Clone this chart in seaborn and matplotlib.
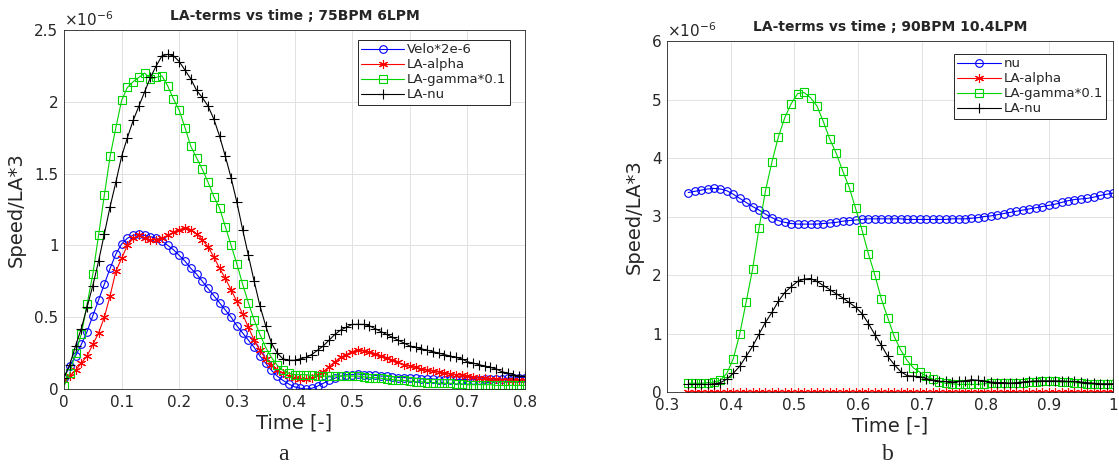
import numpy as np
import matplotlib
matplotlib.use("Agg")
import matplotlib.pyplot as plt
import seaborn as sns
from matplotlib.ticker import FuncFormatter, MultipleLocator

# ---------------- data (values in units of 1e-6) ----------------
time_a = np.round(np.arange(0, 81) * 0.01, 2)

velo_a = [0.08, 0.16, 0.23, 0.31, 0.40, 0.51, 0.62, 0.73, 0.84, 0.94,
          1.01, 1.05, 1.07, 1.08, 1.07, 1.06, 1.05, 1.03, 1.00, 0.97,
          0.93, 0.89, 0.84, 0.80, 0.75, 0.70, 0.65, 0.60, 0.55, 0.50,
          0.44, 0.39, 0.34, 0.29, 0.23, 0.18, 0.13, 0.09, 0.06, 0.035,
          0.015, 0.005, 0.0, 0.005, 0.02, 0.04, 0.06, 0.075, 0.09, 0.10,
          0.10, 0.105, 0.10, 0.10, 0.095, 0.09, 0.09, 0.085, 0.08, 0.08,
          0.075, 0.075, 0.07, 0.07, 0.07, 0.065, 0.065, 0.065, 0.065, 0.065,
          0.065, 0.065, 0.065, 0.07, 0.07, 0.07, 0.07, 0.075, 0.075, 0.08,
          0.08]

alpha_a = [0.065, 0.09, 0.13, 0.18, 0.23, 0.31, 0.39, 0.50, 0.65, 0.82,
           0.91, 1.00, 1.05, 1.07, 1.05, 1.04, 1.04, 1.05, 1.07, 1.09,
           1.11, 1.12, 1.11, 1.08, 1.04, 0.99, 0.92, 0.84, 0.77, 0.69,
           0.61, 0.52, 0.43, 0.34, 0.27, 0.21, 0.17, 0.135, 0.11, 0.093,
           0.08, 0.07, 0.07, 0.077, 0.095, 0.12, 0.155, 0.19, 0.22, 0.24,
           0.26, 0.27, 0.265, 0.26, 0.245, 0.23, 0.215, 0.20, 0.185, 0.17,
           0.16, 0.15, 0.14, 0.13, 0.125, 0.12, 0.11, 0.105, 0.10, 0.095,
           0.09, 0.085, 0.08, 0.075, 0.07, 0.07, 0.065, 0.065, 0.06, 0.06,
           0.06]

gamma_a = [0.02, 0.11, 0.25, 0.38, 0.59, 0.80, 1.07, 1.35, 1.62, 1.82,
           2.01, 2.10, 2.14, 2.17, 2.20, 2.16, 2.17, 2.18, 2.11, 2.02,
           1.94, 1.82, 1.69, 1.61, 1.53, 1.44, 1.34, 1.26, 1.13, 1.00,
           0.87, 0.73, 0.60, 0.48, 0.38, 0.29, 0.22, 0.165, 0.13, 0.11,
           0.10, 0.10, 0.10, 0.095, 0.09, 0.09, 0.09, 0.09, 0.09, 0.09,
           0.09, 0.09, 0.085, 0.08, 0.08, 0.075, 0.07, 0.065, 0.06, 0.06,
           0.055, 0.05, 0.05, 0.045, 0.045, 0.04, 0.04, 0.04, 0.035, 0.035,
           0.03, 0.03, 0.03, 0.03, 0.03, 0.025, 0.025, 0.025, 0.025, 0.025,
           0.025]

nu_a = [0.08, 0.17, 0.30, 0.42, 0.57, 0.72, 0.89, 1.08, 1.27, 1.44,
        1.62, 1.75, 1.87, 1.97, 2.07, 2.17, 2.25, 2.32, 2.33, 2.32,
        2.28, 2.22, 2.16, 2.08, 2.03, 1.97, 1.88, 1.76, 1.62, 1.47,
        1.30, 1.11, 0.93, 0.75, 0.58, 0.44, 0.32, 0.25, 0.21, 0.20,
        0.20, 0.21, 0.22, 0.24, 0.27, 0.30, 0.34, 0.38, 0.41, 0.43,
        0.45, 0.45, 0.45, 0.44, 0.42, 0.40, 0.38, 0.36, 0.34, 0.32,
        0.30, 0.29, 0.28, 0.27, 0.26, 0.25, 0.24, 0.23, 0.22, 0.21,
        0.19, 0.18, 0.17, 0.16, 0.15, 0.14, 0.12, 0.11, 0.10, 0.09,
        0.09]

time_b = np.linspace(1 / 3, 1.0, 67)

nu_b = [3.41, 3.43, 3.45, 3.47, 3.48, 3.47, 3.44, 3.38, 3.31, 3.24,
        3.17, 3.11, 3.04, 2.98, 2.93, 2.90, 2.88, 2.87, 2.87, 2.87,
        2.87, 2.88, 2.89, 2.90, 2.92, 2.93, 2.94, 2.95, 2.96, 2.96,
        2.96, 2.96, 2.96, 2.96, 2.95, 2.95, 2.95, 2.95, 2.95, 2.95,
        2.95, 2.96, 2.96, 2.96, 2.97, 2.98, 3.00, 3.01, 3.03, 3.05,
        3.07, 3.09, 3.11, 3.13, 3.15, 3.17, 3.19, 3.21, 3.24, 3.27,
        3.29, 3.30, 3.31, 3.33, 3.36, 3.38, 3.40]

alpha_b = [0.0, 0.0, 0.0, 0.0, 0.0, 0.0, 0.0, 0.0, 0.0, 0.0,
           0.0, 0.0, 0.0, 0.0, 0.0, 0.0, 0.0, 0.0, 0.0, 0.0,
           0.0, 0.0, 0.0, 0.0, 0.0, 0.0, 0.0, 0.0, 0.0, 0.0,
           0.0, 0.0, 0.0, 0.0, 0.0, 0.0, 0.0, 0.0, 0.0, 0.0,
           0.0, 0.0, 0.0, 0.0, 0.0, 0.0, 0.0, 0.0, 0.0, 0.0,
           0.0, 0.0, 0.0, 0.0, 0.0, 0.0, 0.0, 0.0, 0.0, 0.0,
           0.0, 0.0, 0.0, 0.0, 0.0, 0.0, 0.0]

gamma_b = [0.15, 0.15, 0.15, 0.16, 0.17, 0.20, 0.32, 0.57, 0.99, 1.54,
           2.10, 2.80, 3.44, 3.93, 4.36, 4.69, 4.93, 5.10, 5.12, 5.03,
           4.89, 4.62, 4.32, 4.08, 3.78, 3.50, 3.14, 2.77, 2.36, 2.00,
           1.59, 1.27, 0.95, 0.72, 0.54, 0.41, 0.34, 0.27, 0.22, 0.17,
           0.15, 0.14, 0.13, 0.13, 0.13, 0.13, 0.14, 0.15, 0.15, 0.15,
           0.15, 0.15, 0.16, 0.17, 0.17, 0.18, 0.18, 0.18, 0.17, 0.17,
           0.16, 0.15, 0.14, 0.13, 0.13, 0.13, 0.13]

lanu_b = [0.13, 0.13, 0.13, 0.13, 0.14, 0.16, 0.22, 0.32, 0.44, 0.61,
          0.78, 0.99, 1.19, 1.36, 1.55, 1.70, 1.80, 1.89, 1.93, 1.94,
          1.89, 1.82, 1.75, 1.68, 1.61, 1.53, 1.45, 1.34, 1.17, 0.98,
          0.80, 0.61, 0.47, 0.35, 0.28, 0.27, 0.26, 0.23, 0.20, 0.18,
          0.18, 0.17, 0.18, 0.19, 0.21, 0.20, 0.18, 0.17, 0.16, 0.16,
          0.15, 0.16, 0.17, 0.18, 0.19, 0.19, 0.19, 0.19, 0.19, 0.18,
          0.18, 0.17, 0.16, 0.15, 0.14, 0.14, 0.14]

labels_a = ["Velo*2e-6", "LA-alpha", "LA-gamma*0.1", "LA-nu"]
labels_b = ["nu", "LA-alpha", "LA-gamma*0.1", "LA-nu"]
titles = ["LA-terms vs time ; 75BPM 6LPM", "LA-terms vs time ; 90BPM 10.4LPM"]

# ---------------- style ----------------
sns.set_style("white")
plt.rcParams["font.family"] = ["DejaVu Sans"]
plt.rcParams["mathtext.fontset"] = "dejavusans"

colors = ["#0000ff", "#ff0000", "#00d400", "#000000"]
markers = ["o", (6, 2, 0), "s", "+"]
msizes = [5.5, 6.5, 5.5, 7.5]

fig = plt.figure(figsize=(11.19, 4.74), dpi=100)
ax1 = fig.add_axes([64 / 1119, (474 - 389) / 474, 461 / 1119, 359 / 474])
ax2 = fig.add_axes([667 / 1119, (474 - 392) / 474, 446 / 1119, 351 / 474])


def draw(ax, t, series, labels):
    handles = []
    for y, lab, c, m, ms in zip(series, labels, colors, markers, msizes):
        n_before = len(ax.lines)
        sns.lineplot(x=t, y=y, ax=ax, color=c, lw=0.8, marker=m, markersize=ms,
                     markerfacecolor="none", markeredgecolor=c,
                     markeredgewidth=0.8, estimator=None, sort=False,
                     legend=False)
        handles.append(ax.lines[n_before])
    return handles


h1 = draw(ax1, time_a, [velo_a, alpha_a, gamma_a, nu_a], labels_a)
h2 = draw(ax2, time_b, [nu_b, alpha_b, gamma_b, lanu_b], labels_b)

fmt = FuncFormatter(lambda v, p: "{:g}".format(round(v, 6)))
dark = "#262626"

for ax, hs, labs, xl, yl, xs, ys, title, leg_anchor in [
        (ax1, h1, labels_a, (0, 0.8), (0, 2.5), 0.1, 0.5, titles[0], (0.967, 0.972)),
        (ax2, h2, labels_b, (0.3, 1.0), (0, 6), 0.1, 1.0, titles[1], (0.985, 0.963))]:
    ax.set_xlim(*xl)
    ax.set_ylim(*yl)
    ax.xaxis.set_major_locator(MultipleLocator(xs))
    ax.yaxis.set_major_locator(MultipleLocator(ys))
    ax.xaxis.set_major_formatter(fmt)
    ax.yaxis.set_major_formatter(fmt)
    ax.grid(True, color="#e2e2e2", lw=0.7)
    ax.set_axisbelow(True)
    for s in ax.spines.values():
        s.set_visible(True)
        s.set_color(dark)
        s.set_linewidth(0.6)
    ax.tick_params(direction="in", length=3, width=0.6, labelsize=11,
                   colors=dark, pad=4)
    ax.set_xlabel("Time [-]", fontsize=14, color=dark, labelpad=3)
    ax.set_ylabel("Speed/LA*3", fontsize=14, color=dark, labelpad=6)
    ax.set_title(title, fontsize=10, fontweight="bold", pad=7)
    ax.text(0.0, 1.004, r"$\times10^{-6}$", transform=ax.transAxes,
            ha="left", va="bottom", fontsize=11, color=dark)
    leg = ax.legend(hs, labs, loc="upper right", bbox_to_anchor=leg_anchor,
                    borderaxespad=0, fontsize=9.5, handlelength=3.3,
                    handletextpad=0.2, labelspacing=0.15, borderpad=0.25,
                    frameon=True, fancybox=False, framealpha=1)
    leg.get_frame().set_edgecolor(dark)
    leg.get_frame().set_linewidth(0.7)

fig.text(283 / 1119, 1 - 455 / 474, "a", family="Liberation Serif",
         fontsize=17, ha="center", va="center")
fig.text(888 / 1119, 1 - 455 / 474, "b", family="Liberation Serif",
         fontsize=17, ha="center", va="center")

fig.savefig("out.png", dpi=100)
